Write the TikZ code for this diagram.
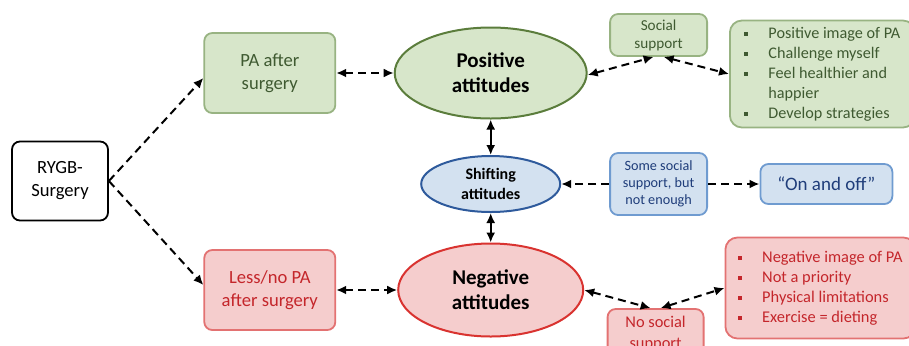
\documentclass[tikz,border=0pt]{standalone}
\usepackage{fontspec}
\setmainfont{Carlito}
\usepackage{xcolor}
\usepackage{tikz}
\usetikzlibrary{arrows.meta,positioning,shapes.geometric}
\definecolor{grfill}{HTML}{D7E6CA}
\definecolor{grline}{HTML}{98B382}
\definecolor{grdark}{HTML}{5B7D3C}
\definecolor{grtext}{HTML}{3F5A31}
\definecolor{rdfill}{HTML}{F5CDCD}
\definecolor{rdline}{HTML}{E37272}
\definecolor{rddark}{HTML}{D93330}
\definecolor{rdtext}{HTML}{C4262B}
\definecolor{blfill}{HTML}{D3E1F0}
\definecolor{blline}{HTML}{6F9BD0}
\definecolor{bldark}{HTML}{2E5A9C}
\definecolor{bltext}{HTML}{1F3D7A}
\newcommand{\sqb}{\rule[0.3ex]{2pt}{2pt}}
\tikzset{
  >={Latex[length=5pt,width=4.5pt]},
  plain/.style={draw, rounded corners=4pt, line width=0.9pt, align=center, inner sep=1pt},
  posbox/.style={plain, draw=grline, fill=grfill, text=grtext},
  negbox/.style={plain, draw=rdline, fill=rdfill, text=rdtext},
  midbox/.style={plain, draw=blline, fill=blfill, text=bltext},
  att/.style={ellipse, draw, line width=1pt, align=center, inner sep=0pt, font=\fontsize{10.5}{12.5}\selectfont\bfseries},
  link/.style={<->, dashed, dash pattern=on 4pt off 2.5pt, line width=1pt},
  onelink/.style={->, dashed, dash pattern=on 4pt off 2.5pt, line width=1pt},
  step link/.style={<->, line width=1.1pt},
}

\begin{document}
\begin{tikzpicture}
  \useasboundingbox (-30pt,-82pt) rectangle (424.5pt,90.5pt);
  \clip (-30pt,-82pt) rectangle (424.5pt,90.5pt);
  % left side
  \node[plain, minimum width=48pt, minimum height=39.5pt, font=\fontsize{9.3}{11.5}\selectfont] (rygb) {RYGB-\\Surgery};
  \node[posbox, minimum width=65.5pt, minimum height=40pt, right=47.25pt of rygb, yshift=54pt, font=\fontsize{9.3}{11.5}\selectfont] (pa) {PA after\\surgery};
  \node[negbox, minimum width=65.5pt, minimum height=40pt, right=47.25pt of rygb, yshift=-54.5pt, font=\fontsize{9.3}{11.5}\selectfont] (lesspa) {Less/no PA\\after surgery};
  % attitudes
  \node[att, draw=grdark, fill=grfill, minimum width=96pt, minimum height=45.5pt, right=28.75pt of pa] (pos) {Positive\\attitudes};
  \node[att, draw=rddark, fill=rdfill, minimum width=92.5pt, minimum height=46.5pt, right=30.5pt of lesspa] (neg) {Negative\\attitudes};
  \node[att, draw=bldark, fill=blfill, minimum width=69.5pt, minimum height=28pt, below=17.75pt of pos, font=\fontsize{8}{10}\selectfont\bfseries] (shift) {Shifting\\attitudes};
  % support
  \node[posbox, minimum width=48.5pt, minimum height=21pt, right=10.75pt of pos, yshift=19pt, font=\fontsize{7.6}{9}\selectfont] (social) {Social\\support};
  \node[midbox, minimum width=48.5pt, minimum height=31pt, right=24pt of shift, font=\fontsize{7.1}{8.5}\selectfont] (some) {Some social\\support, but\\not enough};
  \node[negbox, minimum width=48pt, minimum height=25pt, right=11.25pt of neg, yshift=-22pt, font=\fontsize{8.2}{10.5}\selectfont] (nosocial) {No social\\support};
  % outcomes
  \node[posbox, rounded corners=6pt, minimum width=92.5pt, minimum height=53.5pt, right=10.5pt of social, yshift=-19.5pt, font=\fontsize{8.1}{10}\selectfont] (poslist) {%
    \begin{tabular}{@{}l@{\hspace{10pt}}l@{}}
      \sqb & Positive image of PA\\
      \sqb & Challenge myself\\
      \sqb & Feel healthier and\\
           & happier\\
      \sqb & Develop strategies
    \end{tabular}};
  \node[midbox, minimum width=66pt, minimum height=20pt, right=25.75pt of some, font=\fontsize{9.5}{11}\selectfont] (onoff) {“On and off”};
  \node[negbox, rounded corners=6pt, minimum width=95pt, minimum height=50.5pt, right=10pt of nosocial, yshift=23pt, font=\fontsize{8.2}{10}\selectfont] (neglist) {%
    \begin{tabular}{@{}l@{\hspace{10pt}}l@{}}
      \sqb & Negative image of PA\\
      \sqb & Not a priority\\
      \sqb & Physical limitations\\
      \sqb & Exercise = dieting
    \end{tabular}};
  % connectors
  \draw[onelink] (rygb.east) -- ([yshift=-2.5pt]pa.west);
  \draw[onelink] (rygb.east) -- ([yshift=2.5pt]lesspa.west);
  \draw[link] (pa) -- (pos);
  \draw[link] (lesspa) -- (neg);
  \draw[step link] (pos) -- (shift);
  \draw[step link] (shift) -- (neg);
  \draw[link] ([yshift=-1pt]pos.east) -- ([xshift=-2.5pt]social.south);
  \draw[link] ([xshift=2.5pt]social.south) -- (poslist.west);
  \draw[onelink] (some) -- (shift);
  \draw[onelink] (some) -- (onoff);
  \draw[link] (neg.east) -- ([xshift=-2.5pt]nosocial.north);
  \draw[link] ([xshift=2.5pt]nosocial.north) -- (neglist.west);
\end{tikzpicture}
\end{document}
